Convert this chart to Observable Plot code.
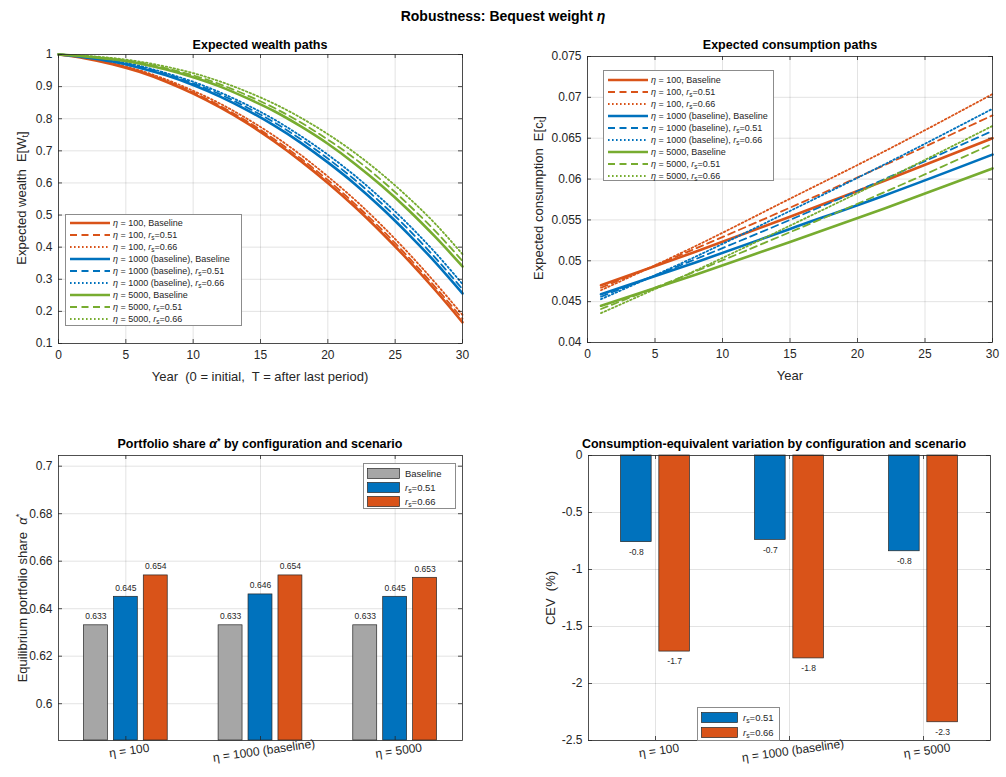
<!DOCTYPE html>
<html><head><meta charset="utf-8">
<script src="https://cdn.jsdelivr.net/npm/d3@7"></script>
<script src="https://cdn.jsdelivr.net/npm/@observablehq/plot@0.6"></script>
<style>
body{margin:0;background:#fff;}
#fig{position:relative;width:1006px;height:777px;font-family:"Liberation Sans",Arial,Helvetica,sans-serif;color:#262626;overflow:hidden;background:#fff}
#fig svg{position:absolute}
.title{position:absolute;font-weight:bold;font-size:12.5px;line-height:15px;transform:translateX(-50%);white-space:nowrap;color:#000}
.main{font-size:14px;line-height:17px}
.ylab{position:absolute;font-size:13px;line-height:15px;white-space:nowrap;transform:translate(-50%,-50%) rotate(-90deg)}
.xlab{position:absolute;font-size:13px;line-height:15px;white-space:nowrap;transform:translateX(-50%)}
sub{font-size:0.72em;vertical-align:-0.25em;line-height:0}
sup{font-size:0.72em;vertical-align:0.45em;line-height:0}
</style></head>
<body><div id="fig"></div>
<script>
// ---------------- DATA ----------------
const wealthYears = [0,2,4,6,8,10,12,14,16,18,20,22,24,26,28,30];
const W_eta100_base   = [1,0.988,0.970,0.946,0.915,0.878,0.835,0.786,0.730,0.668,0.600,0.526,0.445,0.358,0.265,0.166];
const W_eta100_rs051  = [1,0.989,0.972,0.948,0.918,0.882,0.840,0.792,0.737,0.676,0.609,0.535,0.455,0.368,0.275,0.177];
const W_eta100_rs066  = [1,0.989,0.973,0.951,0.922,0.887,0.847,0.800,0.747,0.687,0.620,0.548,0.468,0.381,0.288,0.189];
const W_eta1000_base  = [1,0.991,0.978,0.959,0.935,0.905,0.869,0.827,0.779,0.725,0.664,0.597,0.522,0.440,0.352,0.256];
const W_eta1000_rs051 = [1,0.992,0.980,0.962,0.939,0.910,0.876,0.835,0.789,0.736,0.676,0.610,0.536,0.455,0.366,0.269];
const W_eta1000_rs066 = [1,0.993,0.981,0.965,0.942,0.915,0.882,0.843,0.798,0.746,0.688,0.623,0.550,0.470,0.382,0.285];
const W_eta5000_base  = [1,0.994,0.985,0.972,0.953,0.929,0.900,0.864,0.824,0.776,0.722,0.660,0.591,0.515,0.431,0.340];
const W_eta5000_rs051 = [1,0.995,0.987,0.975,0.957,0.935,0.907,0.873,0.834,0.788,0.735,0.676,0.608,0.532,0.449,0.357];
const W_eta5000_rs066 = [1,0.996,0.989,0.978,0.962,0.942,0.916,0.884,0.847,0.803,0.752,0.694,0.628,0.554,0.472,0.378];

const consYears = [1,8,15,22,30];
const C_eta100_base   = [0.0470,0.0511,0.0554,0.0598,0.0650];
const C_eta100_rs051  = [0.0467,0.0515,0.0565,0.0617,0.0678];
const C_eta100_rs066  = [0.0464,0.0518,0.0576,0.0634,0.0704];
const C_eta1000_base  = [0.0459,0.0498,0.0539,0.0580,0.0630];
const C_eta1000_rs051 = [0.0456,0.0502,0.0550,0.0600,0.0659];
const C_eta1000_rs066 = [0.0453,0.0505,0.0561,0.0618,0.0686];
const C_eta5000_base  = [0.0445,0.0483,0.0523,0.0564,0.0613];
const C_eta5000_rs051 = [0.0441,0.0487,0.0535,0.0584,0.0643];
const C_eta5000_rs066 = [0.0436,0.0488,0.0543,0.0599,0.0665];

const configs = ["η = 100","η = 1000 (baseline)","η = 5000"];
const alphaBaseline = [0.633,0.633,0.633];
const alphaRs051    = [0.645,0.646,0.645];
const alphaRs066    = [0.654,0.654,0.653];
const cevRs051 = [-0.76,-0.74,-0.84];
const cevRs066 = [-1.72,-1.78,-2.34];

const yearTicks = [0,5,10,15,20,25,30];
const wealthTicks = [0.1,0.2,0.3,0.4,0.5,0.6,0.7,0.8,0.9,1];
const consTicks = [0.04,0.045,0.05,0.055,0.06,0.065,0.07,0.075];
const alphaTicks = [0.6,0.62,0.64,0.66,0.68,0.7];
const cevTicks = [-2.5,-2,-1.5,-1,-0.5,0];

// ---------------- STYLE ----------------
const FONT = '"Liberation Sans", Arial, Helvetica, sans-serif';
const INK = "#262626";
const colors = {eta100:"#D95319", eta1000:"#0072BD", eta5000:"#77AC30"};
const barColors = ["#A6A6A6","#0072BD","#D95319"];
const lineStyle = {base:{dash:null,width:2.6}, rs051:{dash:"7,4.5",width:1.8}, rs066:{dash:"1.6,2.4",width:1.8}};
const cfgLabel = {eta100:"<i>η</i> = 100", eta1000:"<i>η</i> = 1000 (baseline)", eta5000:"<i>η</i> = 5000"};
const scnLabel = {base:"Baseline", rs051:"<i>r</i><sub>s</sub>=0.51", rs066:"<i>r</i><sub>s</sub>=0.66"};

const wealthSeries = [
  ["eta100","base",W_eta100_base],["eta100","rs051",W_eta100_rs051],["eta100","rs066",W_eta100_rs066],
  ["eta1000","base",W_eta1000_base],["eta1000","rs051",W_eta1000_rs051],["eta1000","rs066",W_eta1000_rs066],
  ["eta5000","base",W_eta5000_base],["eta5000","rs051",W_eta5000_rs051],["eta5000","rs066",W_eta5000_rs066]];
const consSeries = [
  ["eta100","base",C_eta100_base],["eta100","rs051",C_eta100_rs051],["eta100","rs066",C_eta100_rs066],
  ["eta1000","base",C_eta1000_base],["eta1000","rs051",C_eta1000_rs051],["eta1000","rs066",C_eta1000_rs066],
  ["eta5000","base",C_eta5000_base],["eta5000","rs051",C_eta5000_rs051],["eta5000","rs066",C_eta5000_rs066]];

const fig = document.getElementById("fig");
function put(el, left, top){ el.style.left = left+"px"; el.style.top = top+"px"; fig.appendChild(el); }
function html(cls, text, left, top){ const d=document.createElement("div"); d.className=cls; d.innerHTML=text; put(d,left,top); return d; }

function decor(xTicks, yTicks, innerW, innerH){
  return [
    Plot.gridX(xTicks, {stroke: INK, strokeOpacity: 0.13}),
    Plot.gridY(yTicks, {stroke: INK, strokeOpacity: 0.13}),
  ];
}
function ticksIn(xTicks, yTicks, innerW, innerH){
  return [
    Plot.ruleX(xTicks, {x: d=>d, insetTop: innerH-4, stroke: INK, strokeWidth: 0.8}),
    Plot.ruleX(xTicks, {x: d=>d, insetBottom: innerH-4, stroke: INK, strokeWidth: 0.8}),
    Plot.ruleY(yTicks, {y: d=>d, insetRight: innerW-4, stroke: INK, strokeWidth: 0.8}),
    Plot.ruleY(yTicks, {y: d=>d, insetLeft: innerW-4, stroke: INK, strokeWidth: 0.8}),
    Plot.frame({stroke: INK, strokeWidth: 0.8})
  ];
}
const fmt = d => String(d);
const pstyle = {fontFamily: FONT, fontSize: "12px", color: INK, background: "transparent", overflow: "visible"};

function linePanel(series, years, xDom, yDom, xTicks, yTicks, geo){
  const innerW = geo.width - geo.ml - geo.mr, innerH = geo.height - geo.mt - geo.mb;
  const marks = [...decor(xTicks, yTicks, innerW, innerH)];
  for (const [cfg, scn, vals] of series){
    const st = lineStyle[scn];
    marks.push(Plot.line(years.map((t,i)=>({t, v: vals[i]})), {
      x:"t", y:"v", stroke: colors[cfg], strokeWidth: st.width,
      strokeDasharray: st.dash || undefined, curve: "monotone-x"}));
  }
  marks.push(...ticksIn(xTicks, yTicks, innerW, innerH));
  marks.push(Plot.axisX(xTicks, {tickSize:0, tickPadding:7, tickFormat: fmt, label:null}));
  marks.push(Plot.axisY(yTicks, {tickSize:0, tickPadding:6, tickFormat: fmt, label:null}));
  const svg = Plot.plot({width: geo.width, height: geo.height, marginLeft: geo.ml, marginRight: geo.mr,
    marginTop: geo.mt, marginBottom: geo.mb, style: pstyle,
    x:{domain:xDom}, y:{domain:yDom}, marks});
  put(svg, geo.left, geo.top);
}

function lineLegend(series, box){
  const d = document.createElement("div");
  Object.assign(d.style, {position:"absolute", width: box.width+"px", height: box.height+"px",
    border:"1px solid #8c8c8c", background:"#fff", boxSizing:"border-box",
    padding: box.pad+"px 0 0 4px", fontSize:"9px", color:"#262626"});
  for (const [cfg, scn] of series){
    const st = lineStyle[scn];
    const row = document.createElement("div");
    Object.assign(row.style, {height: box.row+"px", display:"flex", alignItems:"center", whiteSpace:"nowrap"});
    row.innerHTML = `<svg width="40" height="6" style="position:static;flex:none;margin-right:3px"><line x1="0" y1="3" x2="40" y2="3" stroke="${colors[cfg]}" stroke-width="${st.width}" ${st.dash?`stroke-dasharray="${st.dash}"`:""}/></svg><span>${cfgLabel[cfg]}, ${scnLabel[scn]}</span>`;
    d.appendChild(row);
  }
  put(d, box.left, box.top);
}

function barLegend(items, box){
  const d = document.createElement("div");
  Object.assign(d.style, {position:"absolute", width: box.width+"px", height: box.height+"px",
    border:"1px solid #8c8c8c", background:"#fff", boxSizing:"border-box",
    padding: box.pad+"px 0 0 3px", fontSize:"9.5px", color:"#262626"});
  for (const [color, label] of items){
    const row = document.createElement("div");
    Object.assign(row.style, {height: box.row+"px", display:"flex", alignItems:"center", whiteSpace:"nowrap"});
    row.innerHTML = `<svg width="${box.sw}" height="11" style="position:static;flex:none;margin-right:5px"><rect x="0.5" y="0.5" width="${box.sw-1}" height="10" fill="${color}" stroke="#262626" stroke-width="0.7"/></svg><span>${label}</span>`;
    d.appendChild(row);
  }
  put(d, box.left, box.top);
}

// ---------------- TOP LEFT ----------------
linePanel(wealthSeries, wealthYears, [0,30], [0.1,1], yearTicks, wealthTicks,
  {left:0, top:0, width:490, height:380, ml:58, mr:28, mt:54, mb:37});
lineLegend(wealthSeries, {left:65, top:214, width:177, height:112, row:12, pad:2});

// ---------------- TOP RIGHT ----------------
linePanel(consSeries, consYears, [0,30], [0.04,0.075], yearTicks, consTicks,
  {left:500, top:0, width:506, height:380, ml:87, mr:14, mt:56, mb:38});
lineLegend(consSeries, {left:603, top:70, width:171, height:111, row:12, pad:2.5});

// ---------------- BOTTOM LEFT ----------------
{
  const geo = {left:0, top:400, width:490, height:377, ml:58, mr:28, mt:55, mb:37};
  const innerW = geo.width-geo.ml-geo.mr, innerH = geo.height-geo.mt-geo.mb;
  const yDom = [0.5845, 0.7045];
  const series = [alphaBaseline, alphaRs051, alphaRs066];
  const nS = series.length, gw = Math.min(0.8, nS/(nS+1.5)), bw = gw/nS*0.8;
  const rows = configs.flatMap((c,i)=>series.map((arr,k)=>({g:i+1, k, v:arr[i],
    xc: i+1 - gw/2 + (2*k+1)*gw/(2*nS)})));
  const marks = [...decor([1,2,3], alphaTicks, innerW, innerH)];
  marks.push(Plot.rectY(rows, {x1: d=>d.xc-bw/2, x2: d=>d.xc+bw/2, y1: ()=>yDom[0], y2:"v",
    fill: d=>barColors[d.k], stroke:"#262626", strokeWidth:0.7}));
  marks.push(Plot.text(rows, {x:"xc", y:"v", text: d=>d.v.toFixed(3), dy:-9, fontSize:8.5, fill:"#262626"}));
  marks.push(...ticksIn([1,2,3], alphaTicks, innerW, innerH));
  marks.push(Plot.axisY(alphaTicks, {tickSize:0, tickPadding:6, tickFormat: fmt, label:null}));
  marks.push(Plot.text(configs, {x:(d,i)=>i+1, text:d=>d, frameAnchor:"bottom", dy:14, dx:4, rotate:-8, fontSize:12, fill:"#262626"}));
  const svg = Plot.plot({width:geo.width, height:geo.height, marginLeft:geo.ml, marginRight:geo.mr,
    marginTop:geo.mt, marginBottom:geo.mb, style:pstyle, color:{type:"identity"},
    x:{domain:[0.5,3.5], axis:null}, y:{domain:yDom, axis:null}, marks});
  put(svg, geo.left, geo.top);
  barLegend([[barColors[0],"Baseline"],[barColors[1],scnLabel.rs051],[barColors[2],scnLabel.rs066]],
    {left:363, top:463, width:93, height:46, row:14, pad:2, sw:33});
}

// ---------------- BOTTOM RIGHT ----------------
{
  const geo = {left:500, top:400, width:506, height:377, ml:88, mr:16, mt:55, mb:37};
  const innerW = geo.width-geo.ml-geo.mr, innerH = geo.height-geo.mt-geo.mb;
  const yDom = [-2.5, 0];
  const series = [cevRs051, cevRs066];
  const nS = series.length, gw = Math.min(0.8, nS/(nS+1.5)), bw = gw/nS*0.8;
  const rows = configs.flatMap((c,i)=>series.map((arr,k)=>({g:i+1, k, v:arr[i],
    xc: i+1 - gw/2 + (2*k+1)*gw/(2*nS)})));
  const marks = [...decor([1,2,3], cevTicks, innerW, innerH)];
  marks.push(Plot.rectY(rows, {x1: d=>d.xc-bw/2, x2: d=>d.xc+bw/2, y1: ()=>0, y2:"v",
    fill: d=>barColors[d.k+1], stroke:"#262626", strokeWidth:0.7}));
  marks.push(Plot.text(rows, {x:"xc", y:"v", text: d=>d.v.toFixed(1), dy:10, fontSize:8.5, fill:"#262626"}));
  marks.push(...ticksIn([1,2,3], cevTicks, innerW, innerH));
  marks.push(Plot.axisY(cevTicks, {tickSize:0, tickPadding:6, tickFormat: fmt, label:null}));
  marks.push(Plot.text(configs, {x:(d,i)=>i+1, text:d=>d, frameAnchor:"bottom", dy:14, dx:4, rotate:-8, fontSize:12, fill:"#262626"}));
  const svg = Plot.plot({width:geo.width, height:geo.height, marginLeft:geo.ml, marginRight:geo.mr,
    marginTop:geo.mt, marginBottom:geo.mb, style:pstyle, color:{type:"identity"},
    x:{domain:[0.5,3.5], axis:null}, y:{domain:yDom, axis:null}, marks});
  put(svg, geo.left, geo.top);
  barLegend([[barColors[1],scnLabel.rs051],[barColors[2],scnLabel.rs066]],
    {left:697, top:707, width:83, height:34, row:15, pad:1.5, sw:37});
}

// ---------------- TEXT ----------------
html("title main", "Robustness: Bequest weight <i>η</i>", 503, 8);
html("title", "Expected wealth paths", 260, 38);
html("title", "Expected consumption paths", 790, 38);
html("title", "Portfolio share <i>α</i><sup>*</sup> by configuration and scenario", 260, 437);
html("title", "Consumption-equivalent variation by configuration and scenario", 774, 437);
html("xlab", "Year&nbsp; (0 = initial,&nbsp; T = after last period)", 260, 369);
html("xlab", "Year", 790, 368);
html("ylab", "Expected wealth&nbsp; E[W<sub>t</sub>]", 21, 198);
html("ylab", "Expected consumption&nbsp; E[c<sub>t</sub>]", 538, 198);
html("ylab", "Equilibrium portfolio share&nbsp; <i>α</i><sup>*</sup>", 22, 598);
html("ylab", "CEV&nbsp; (%)", 550, 598);
</script></body></html>
